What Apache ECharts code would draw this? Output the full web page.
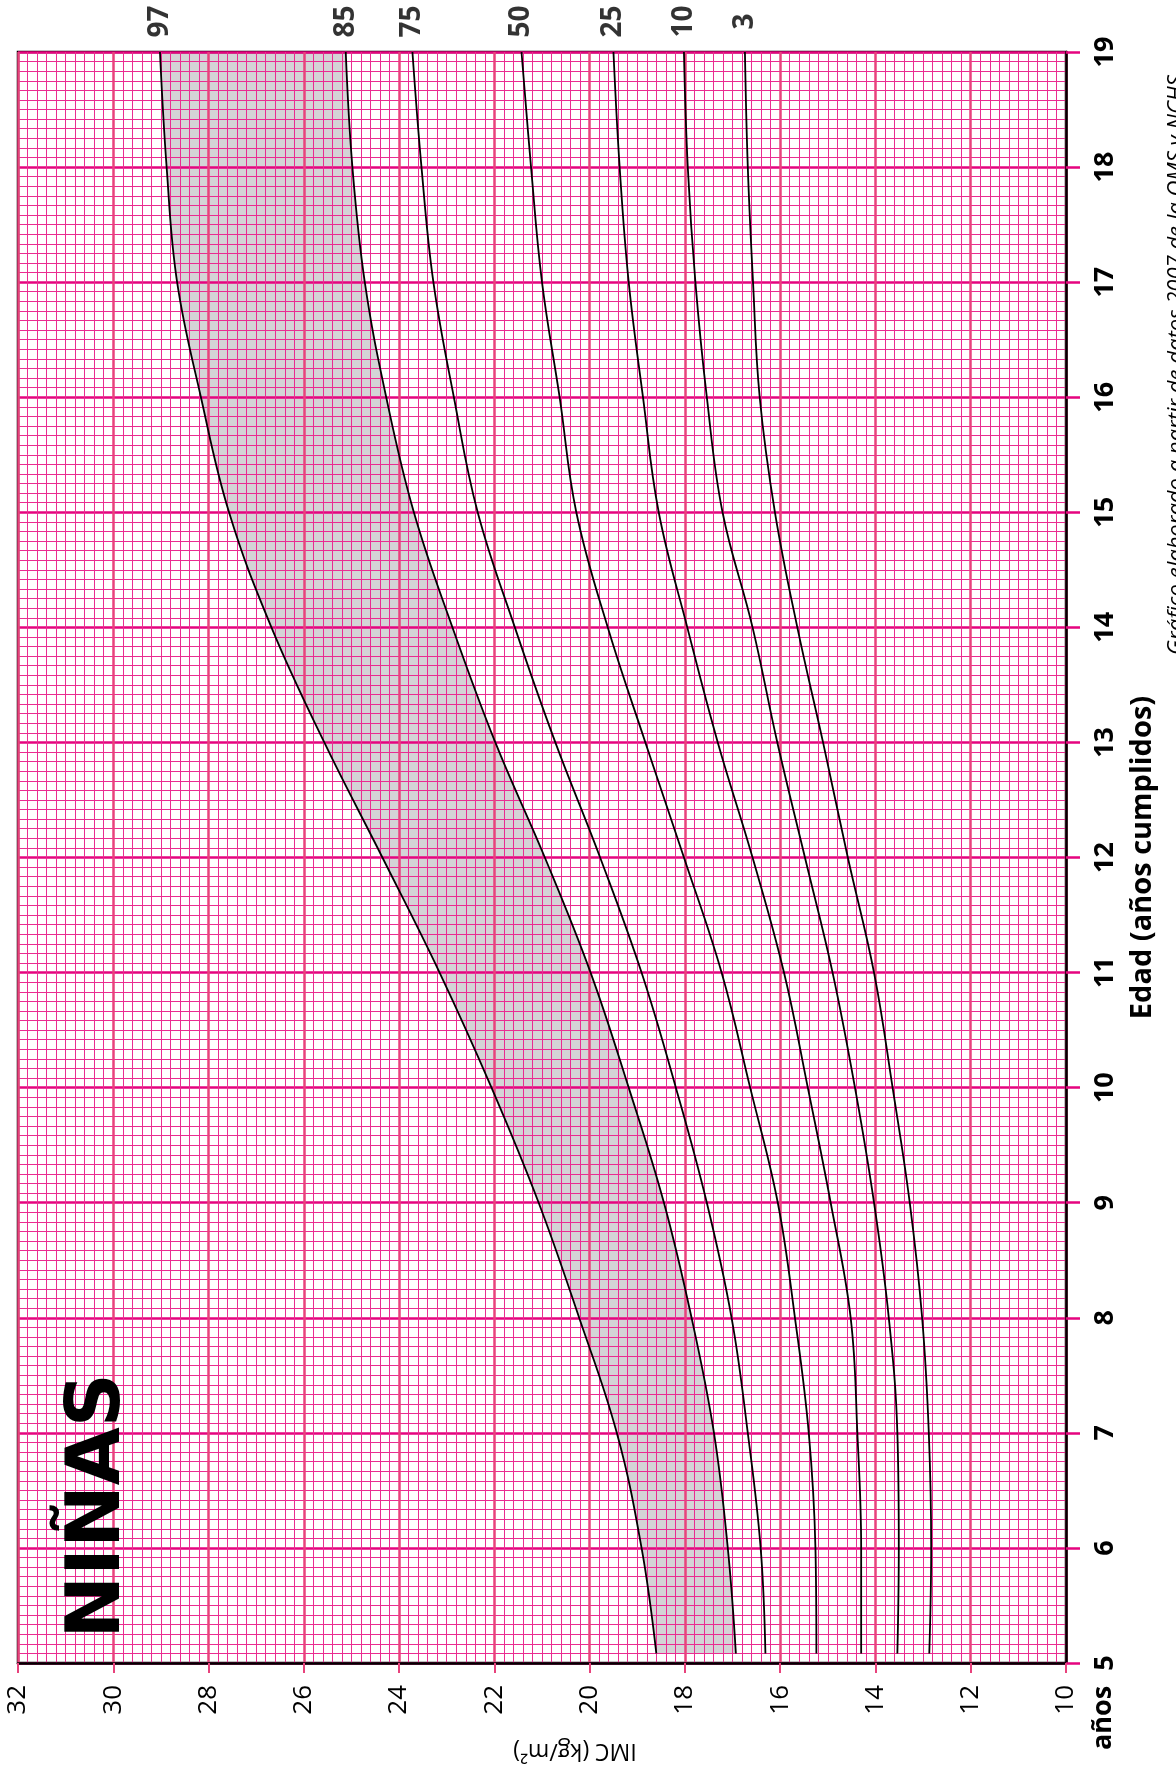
<!DOCTYPE html>
<html>
<head>
<meta charset="utf-8">
<title>IMC niñas 5-19 años</title>
<script src="https://cdn.jsdelivr.net/npm/echarts@6/dist/echarts.min.js"></script>
<style>
  html, body { margin: 0; padding: 0; background: #fff; }
  #chart { width: 1176px; height: 1767px; }
</style>
</head>
<body>
<div id="chart"></div>
<script>
// edad (años) y percentiles de IMC
const ages = [5.083, 6, 7, 8, 9, 10, 11, 12, 13, 14, 15, 16, 17, 18, 19]
const p3 = [12.87, 12.83, 12.88, 13.02, 13.28, 13.64, 14.03, 14.58, 15.10, 15.64, 16.11, 16.43, 16.57, 16.68, 16.74]
const p10 = [13.54, 13.51, 13.54, 13.72, 14.03, 14.43, 14.90, 15.48, 16.06, 16.58, 17.21, 17.54, 17.78, 17.94, 18.02]
const p25 = [14.30, 14.30, 14.38, 14.52, 14.94, 15.42, 15.92, 16.58, 17.31, 17.95, 18.55, 18.88, 19.18, 19.37, 19.50]
const p50 = [15.24, 15.26, 15.40, 15.69, 16.05, 16.63, 17.23, 18.02, 18.83, 19.62, 20.28, 20.63, 21.00, 21.23, 21.43]
const p75 = [16.31, 16.41, 16.68, 17.02, 17.54, 18.19, 18.91, 19.78, 20.72, 21.57, 22.35, 22.85, 23.28, 23.53, 23.72]
const p85 = [16.93, 17.10, 17.39, 17.86, 18.44, 19.18, 19.98, 20.94, 21.98, 22.88, 23.69, 24.27, 24.72, 24.98, 25.12]
const p97 = [18.60, 18.91, 19.43, 20.22, 21.07, 22.06, 23.15, 24.35, 25.57, 26.68, 27.57, 28.16, 28.66, 28.88, 29.02]

const percentileNames = ['3', '10', '25', '50', '75', '85', '97']
const percentiles = [p3, p10, p25, p50, p75, p85, p97]

const SMOOTH = 0.4

// same bezier construction as the line series uses, so the band edge follows the curves
function bezierSegs(pts, smooth) {
  const segs = []
  let cp0 = pts[0]
  for (let i = 1; i < pts.length; i++) {
    const x = pts[i][0], y = pts[i][1]
    const px = pts[i - 1][0], py = pts[i - 1][1]
    let cp1, next
    if (i === pts.length - 1) {
      cp1 = [x, y]
    } else {
      const nx = pts[i + 1][0], ny = pts[i + 1][1]
      const vx = nx - px, vy = ny - py
      const l0 = Math.hypot(x - px, y - py)
      const l1 = Math.hypot(nx - x, ny - y)
      const r = l1 / (l0 + l1)
      let ncx = x + vx * smooth * r
      let ncy = y + vy * smooth * r
      ncx = Math.max(Math.min(ncx, Math.max(nx, x)), Math.min(nx, x))
      ncy = Math.max(Math.min(ncy, Math.max(ny, y)), Math.min(ny, y))
      let wx = ncx - x, wy = ncy - y
      let c1x = x - wx * l0 / l1
      let c1y = y - wy * l0 / l1
      c1x = Math.max(Math.min(c1x, Math.max(px, x)), Math.min(px, x))
      c1y = Math.max(Math.min(c1y, Math.max(py, y)), Math.min(py, y))
      wx = x - c1x
      wy = y - c1y
      ncx = x + wx * l1 / l0
      ncy = y + wy * l1 / l0
      cp1 = [c1x, c1y]
      next = [ncx, ncy]
    }
    segs.push([pts[i - 1], cp0, cp1, pts[i]])
    cp0 = next
  }
  return segs
}

function f(p) {
  return p[0].toFixed(2) + ' ' + p[1].toFixed(2)
}

const pink = '#e8427c'
const magenta = '#e5047f'
const minorPink = '#ea2c91'

const chart = echarts.init(document.getElementById('chart'))

const lineSeries = percentiles.map((vals, k) => ({
  name: 'P' + percentileNames[k],
  type: 'line',
  data: ages.map((a, i) => [vals[i], a]),
  smooth: SMOOTH,
  showSymbol: false,
  lineStyle: { color: '#000', width: 1.8 },
  z: 3
}))

const option = {
  backgroundColor: '#fff',
  animation: false,
  grid: {
    left: 18,
    right: 110,
    top: 52,
    bottom: 103,
    show: true,
    borderColor: '#000',
    borderWidth: 2.5
  },
  xAxis: {
    type: 'value',
    inverse: true,
    min: 10,
    max: 32,
    interval: 2,
    position: 'bottom',
    name: 'IMC (kg/m²)',
    nameLocation: 'middle',
    nameRotate: 180,
    nameGap: 76,
    nameTextStyle: {
      fontFamily: 'Open Sans',
      fontSize: 23,
      color: '#000',
      padding: [0, 66, 0, 0]
    },
    axisLine: { show: true, lineStyle: { color: '#000', width: 2.5 } },
    axisTick: { show: true, length: 10, lineStyle: { color: pink, width: 2 } },
    axisLabel: {
      rotate: 90,
      margin: 22,
      fontFamily: 'Open Sans',
      fontSize: 26,
      color: '#000'
    },
    splitLine: { show: true, lineStyle: { color: pink, width: 2.5 } },
    minorTick: { show: false, splitNumber: 10 },
    minorSplitLine: { show: true, lineStyle: { color: minorPink, width: 1 } }
  },
  yAxis: {
    type: 'value',
    min: 5,
    max: 19,
    interval: 1,
    position: 'right',
    name: 'Edad (años cumplidos)',
    nameLocation: 'middle',
    nameRotate: 90,
    nameGap: 62,
    nameTextStyle: {
      fontFamily: 'Open Sans',
      fontWeight: 'bold',
      fontSize: 29,
      color: '#000'
    },
    axisLine: { show: true, lineStyle: { color: '#000', width: 2.5 } },
    axisTick: { show: true, length: 14, lineStyle: { color: magenta, width: 2.5 } },
    axisLabel: {
      rotate: 90,
      margin: 26,
      fontFamily: 'Open Sans',
      fontWeight: 'bold',
      fontSize: 27,
      color: '#000'
    },
    splitLine: { show: true, lineStyle: { color: magenta, width: 2.5 } },
    minorTick: { show: false, splitNumber: 12 },
    minorSplitLine: { show: true, lineStyle: { color: minorPink, width: 1 } }
  },
  graphic: [
    {
      type: 'text',
      x: 100,
      y: 1506,
      rotation: Math.PI / 2,
      style: {
        text: 'NIÑAS',
        font: 'bold 75px "DejaVu Sans"',
        fill: '#000',
        textAlign: 'center',
        textVerticalAlign: 'middle'
      },
      z: 10
    },
    {
      type: 'text',
      x: 1103,
      y: 1718,
      rotation: Math.PI / 2,
      style: {
        text: 'años',
        font: 'bold 27px "Open Sans"',
        fill: '#000',
        textAlign: 'center',
        textVerticalAlign: 'middle'
      }
    },
    {
      type: 'text',
      x: 1177,
      y: 365,
      rotation: Math.PI / 2,
      style: {
        text: 'Gráfico elaborado a partir de datos 2007 de la OMS y NCHS',
        font: 'italic 22px "Open Sans"',
        fill: '#000',
        textAlign: 'center',
        textVerticalAlign: 'middle'
      }
    }
  ],
  series: [
    {
      // banda gris entre P85 y P97
      type: 'custom',
      z: -1,
      clip: true,
      silent: true,
      data: [[p97[0], ages[0]]],
      renderItem: function (params, api) {
        const upper = ages.map((a, i) => api.coord([p97[i], a]))
        const lower = ages.map((a, i) => api.coord([p85[i], a]))
        const su = bezierSegs(upper, SMOOTH)
        const sl = bezierSegs(lower, SMOOTH)
        let d = 'M' + f(upper[0])
        su.forEach(s => { d += ' C' + f(s[1]) + ' ' + f(s[2]) + ' ' + f(s[3]) })
        d += ' L' + f(lower[lower.length - 1])
        for (let i = sl.length - 1; i >= 0; i--) {
          const s = sl[i]
          d += ' C' + f(s[2]) + ' ' + f(s[1]) + ' ' + f(s[0])
        }
        d += ' Z'
        return {
          type: 'path',
          shape: { pathData: d },
          style: { fill: '#d4d4d6', stroke: null }
        }
      }
    },
    ...lineSeries,
    {
      // etiquetas de percentil encima del borde superior
      type: 'scatter',
      symbolSize: 1,
      itemStyle: { color: 'rgba(0,0,0,0)' },
      clip: false,
      silent: true,
      data: percentiles.map((vals, k) => ({
        value: [vals[vals.length - 1], ages[ages.length - 1]],
        name: percentileNames[k]
      })),
      label: {
        show: true,
        formatter: '{b}',
        position: 'top',
        distance: 30,
        rotate: 90,
        align: 'center',
        verticalAlign: 'middle',
        fontFamily: 'Open Sans',
        fontWeight: 'bold',
        fontSize: 28,
        color: '#000'
      },
      z: 5
    }
  ]
}

chart.setOption(option)
</script>
</body>
</html>
